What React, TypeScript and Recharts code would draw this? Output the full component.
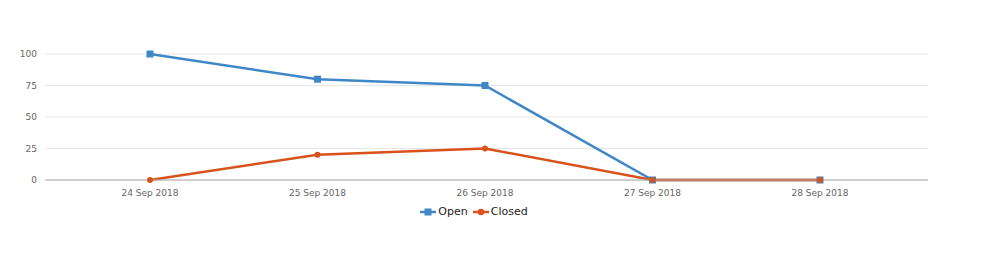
import React from "react";
import { LineChart, Line, XAxis, YAxis, CartesianGrid, Legend } from "recharts";

const dates = ["24 Sep 2018", "25 Sep 2018", "26 Sep 2018", "27 Sep 2018", "28 Sep 2018"];
const openCounts = [100, 80, 75, 0, 0];
const closedCounts = [0, 20, 25, 0, 0];
const yTicks = [0, 25, 50, 75, 100];

const BLUE = "#3f87c6";
const ORANGE = "#d9521b";

const data = dates.map((d, i) => ({ date: d, Open: openCounts[i], Closed: closedCounts[i] }));

const SquareDot = (props: any) => {
  const { cx, cy, key } = props;
  if (cx == null || cy == null) return null;
  return <rect key={key} x={cx - 3.5} y={cy - 3.5} width={7} height={7} fill={BLUE} />;
};

const LegendContent = () => (
  <div
    style={{
      display: "flex",
      justifyContent: "center",
      alignItems: "center",
      fontFamily: "DejaVu Sans",
      fontSize: 11,
      color: "#222",
      marginTop: -5,
      paddingLeft: 12,
    }}
  >
    <svg width={16} height={10} style={{ marginRight: 2 }}>
      <line x1={0} y1={5} x2={16} y2={5} stroke={BLUE} strokeWidth={2.5} />
      <rect x={4.5} y={1.5} width={7} height={7} fill={BLUE} />
    </svg>
    <span style={{ marginRight: 5 }}>Open</span>
    <svg width={16} height={10} style={{ marginRight: 2 }}>
      <line x1={0} y1={5} x2={16} y2={5} stroke={ORANGE} strokeWidth={2.5} />
      <circle cx={8} cy={5} r={3.2} fill={ORANGE} />
    </svg>
    <span>Closed</span>
  </div>
);

export default function App() {
  return (
    <LineChart
      width={983}
      height={245}
      data={data}
      margin={{ top: 46, right: 63, left: 0, bottom: 0 }}
      style={{ fontFamily: "DejaVu Sans" }}
    >
      <CartesianGrid vertical={false} stroke="#e6e6e6" />
      <XAxis
        dataKey="date"
        height={30}
        padding={{ left: 105, right: 108 }}
        stroke="#aaaaaa"
        tickLine={false}
        tick={{ fill: "#666666", fontSize: 9 }}
        tickMargin={4}
      />
      <YAxis
        width={37}
        domain={[0, 100]}
        ticks={yTicks}
        axisLine={false}
        tickLine={false}
        tick={{ fill: "#666666", fontSize: 9 }}
        tickMargin={2}
      />
      <Legend height={43} verticalAlign="bottom" content={<LegendContent />} />
      <Line
        dataKey="Open"
        stroke={BLUE}
        strokeWidth={2.5}
        dot={SquareDot}
        activeDot={false}
        isAnimationActive={false}
      />
      <Line
        dataKey="Closed"
        stroke={ORANGE}
        strokeWidth={2.5}
        dot={{ r: 3, fill: ORANGE, stroke: ORANGE, strokeWidth: 0 }}
        activeDot={false}
        isAnimationActive={false}
      />
    </LineChart>
  );
}
